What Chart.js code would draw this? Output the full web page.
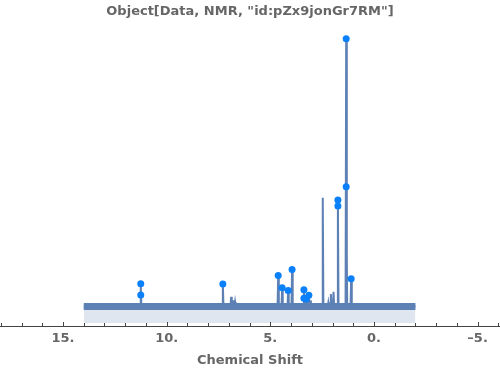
<!DOCTYPE html>
<html>
<head>
<meta charset="utf-8">
<script src="https://cdn.jsdelivr.net/npm/chart.js@4"></script>
<style>
  html, body { margin: 0; padding: 0; background: #fff; }
  #wrap { width: 500px; height: 371px; }
</style>
</head>
<body>
<div id="wrap"><canvas id="nmr"></canvas></div>
<script>
// spectrum sticks (ppm, relative intensity)
const peakShift  = [12.88, 11.25, 7.29, 6.89, 6.80, 6.70, 4.62, 4.43, 4.14, 3.95, 3.38, 3.27, 3.14, 3.05, 2.47, 2.20, 2.08, 1.95, 1.74, 1.34, 1.32, 1.10];
const peakHeight = [6.6,   13.8,  13.7, 9.2,  8.0,  7.4,  16.7, 12.4, 11.4, 18.8, 11.7, 8.5,  9.75, 8.0,  44.1, 7.2,  10.2, 11.0, 43.3, 100.1, 32.7, 15.6];

// picked peaks (markers)
const dotShift  = [11.25, 11.25, 7.29, 4.62, 4.43, 4.14, 3.95, 3.38, 3.38, 3.27, 3.14, 1.74, 1.74, 1.34, 1.34, 1.10];
const dotHeight = [13.8,  9.9,   13.7, 16.7, 12.4, 11.4, 18.8, 11.7, 8.7,  8.45, 9.75, 43.3, 41.2, 100.1, 48.0, 15.6];

// baseline
const baseStart = 14;
const baseEnd = -2;
const baseLevel = 5.8;

const majorTicks = [15, 10, 5, 0, -5];
const allTicks = [18, 17, 16, 15, 14, 13, 12, 11, 10, 9, 8, 7, 6, 5, 4, 3, 2, 1, 0, -1, -2, -3, -4, -5, -6];

const lineColor = "#5e81b5";
const fillColor = "#dfe6f0";
const dotColor = "#0b80fb";
const textColor = "#666666";
const axisColor = "#444444";
const FONT = "'DejaVu Sans', sans-serif";

const half = 0.03;
const spectrum = [{ x: baseStart, y: baseLevel }];
peakShift.forEach((s, i) => {
  const w = i === 0 ? 0.15 : half;
  spectrum.push({ x: s + w, y: baseLevel });
  spectrum.push({ x: s, y: peakHeight[i] });
  spectrum.push({ x: s - w, y: baseLevel });
});
spectrum.push({ x: baseEnd, y: baseLevel });

const dots = dotShift.map((s, i) => ({ x: s, y: dotHeight[i] }));

// ticks point up from the axis line, like the original
const upTicks = {
  id: "upTicks",
  afterDraw(chart) {
    const { ctx, chartArea, scales: { x } } = chart;
    const y0 = chartArea.bottom;
    ctx.save();
    ctx.strokeStyle = axisColor;
    ctx.lineWidth = 1;
    allTicks.forEach(v => {
      const px = Math.round(x.getPixelForValue(v)) + 0.5;
      const len = majorTicks.includes(v) ? 4 : 3;
      ctx.beginPath();
      ctx.moveTo(px, y0);
      ctx.lineTo(px, y0 - len);
      ctx.stroke();
    });
    ctx.restore();
  }
};

new Chart(document.getElementById("nmr"), {
  type: "line",
  data: {
    datasets: [
      {
        data: dots,
        showLine: false,
        pointRadius: 3.5,
        pointBackgroundColor: dotColor,
        pointBorderWidth: 0,
        order: 0
      },
      {
        data: spectrum,
        borderColor: lineColor,
        borderWidth: 2,
        pointRadius: 0,
        tension: 0,
        fill: false,
        order: 1
      },
      {
        data: [{ x: baseStart, y: baseLevel }, { x: baseEnd, y: baseLevel }],
        borderColor: lineColor,
        borderWidth: 7,
        borderCapStyle: "butt",
        pointRadius: 0,
        fill: { value: 0 },
        backgroundColor: fillColor,
        order: 2
      }
    ]
  },
  options: {
    responsive: true,
    maintainAspectRatio: false,
    animation: false,
    layout: { padding: 0, autoPadding: false },
    plugins: {
      legend: { display: false },
      tooltip: { enabled: false },
      title: {
        display: true,
        text: 'Object[Data, NMR, "id:pZx9jonGr7RM"]',
        color: textColor,
        font: { family: FONT, size: 13, weight: "bold" },
        padding: { top: 3.5, bottom: 0.9 }
      }
    },
    scales: {
      x: {
        type: "linear",
        reverse: true,
        min: -6.08,
        max: 18.04,
        afterBuildTicks: (scale) => {
          scale.ticks = allTicks.map(v => ({ value: v }));
        },
        afterFit: (scale) => { scale.height = 45; },
        ticks: {
          autoSkip: false,
          maxRotation: 0,
          padding: 0,
          color: textColor,
          font: { family: FONT, size: 13, weight: "bold" },
          callback: (v) => majorTicks.includes(v) ? (v < 0 ? "\u2013" + Math.abs(v) : v) + "." : ""
        },
        grid: {
          drawOnChartArea: false,
          drawTicks: true,
          tickLength: 5,
          color: "rgba(0,0,0,0)"
        },
        border: { display: true, color: axisColor, width: 1 },
        title: {
          display: true,
          text: "Chemical Shift",
          color: textColor,
          font: { family: FONT, size: 13, weight: "bold" },
          padding: { top: 0, bottom: 2.2 }
        }
      },
      y: {
        display: false,
        min: -1.06,
        max: 106.7
      }
    }
  },
  plugins: [upTicks]
});
</script>
</body>
</html>
